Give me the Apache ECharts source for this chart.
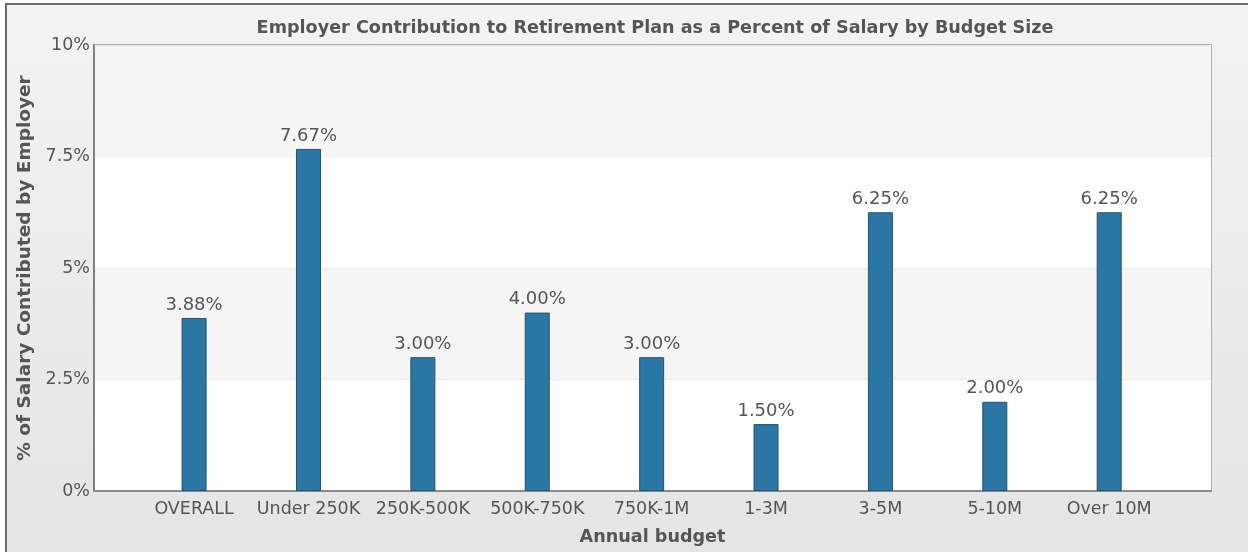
<!DOCTYPE html>
<html>
<head>
<meta charset="utf-8">
<script src="https://cdn.jsdelivr.net/npm/echarts@6/dist/echarts.min.js"></script>
<style>
  html, body { margin: 0; padding: 0; background: #ffffff; }
  #chart { width: 1248px; height: 552px; }
</style>
</head>
<body>
<div id="chart"></div>
<script>
// Budget size groups and the employer contribution (% of salary) for each
const categories = ['OVERALL', 'Under 250K', '250K-500K', '500K-750K', '750K-1M', '1-3M', '3-5M', '5-10M', 'Over 10M'];
const contribution = [3.88, 7.67, 3.00, 4.00, 3.00, 1.50, 6.25, 2.00, 6.25];
const yTicks = [0, 2.5, 5, 7.5, 10];

const textColor = '#555555';
const fontFamily = 'DejaVu Sans, Verdana, sans-serif';

const chart = echarts.init(document.getElementById('chart'), null, { renderer: 'canvas' });

const seriesData = contribution.map((v, i) => [i, v]);

chart.setOption({
  animation: false,
  backgroundColor: 'transparent',
  graphic: [{
    type: 'rect',
    z: -100,
    silent: true,
    shape: { x: 6, y: 4, width: 1300, height: 600 },
    style: {
      fill: new echarts.graphic.LinearGradient(0, 0, 0, 1, [
        { offset: 0, color: '#f3f3f3' },
        { offset: 1, color: '#e3e3e3' }
      ]),
      stroke: '#6a6a6a',
      lineWidth: 2
    }
  }],
  title: {
    text: 'Employer Contribution to Retirement Plan as a Percent of Salary by Budget Size',
    left: 650,
    textAlign: 'center',
    top: 14,
    textStyle: { color: textColor, fontSize: 17.6, fontWeight: 'bold', fontFamily: fontFamily }
  },
  grid: {
    left: 94, right: 37, top: 45, bottom: 61,
    show: true,
    backgroundColor: '#ffffff',
    borderColor: '#9a9a9a',
    borderWidth: 1.5
  },
  xAxis: {
    type: 'value',
    min: -0.875,
    max: 8.89,
    name: 'Annual budget',
    nameLocation: 'middle',
    nameGap: 37,
    nameTextStyle: { color: textColor, fontSize: 17.6, fontWeight: 'bold', fontFamily: fontFamily },
    axisLine: { show: true, onZero: false, lineStyle: { color: '#8a8a8a', width: 2 } },
    axisTick: { show: false },
    splitLine: { show: false },
    axisLabel: {
      customValues: categories.map((c, i) => i),
      formatter: v => categories[v],
      color: textColor,
      fontSize: 17.5,
      fontFamily: fontFamily,
      margin: 9
    }
  },
  yAxis: {
    type: 'value',
    min: 0,
    max: 10,
    interval: 2.5,
    name: '% of Salary Contributed by Employer',
    nameLocation: 'middle',
    nameGap: 49,
    nameRotate: 90,
    nameTextStyle: { color: textColor, fontSize: 18.5, fontWeight: 'bold', fontFamily: fontFamily },
    axisLine: { show: true, onZero: false, lineStyle: { color: '#808080', width: 2 } },
    axisTick: { show: false },
    axisLabel: {
      formatter: v => (yTicks.includes(v) ? v + '%' : ''),
      color: textColor,
      fontSize: 17.5,
      fontFamily: fontFamily,
      margin: 4
    },
    splitLine: { show: true, lineStyle: { color: '#ececec', width: 1 } },
    splitArea: { show: true, areaStyle: { color: ['#ffffff', '#f5f5f5'] } }
  },
  series: [{
    type: 'bar',
    data: seriesData,
    barWidth: 25,
    itemStyle: { color: '#2a76a5', borderColor: '#28506d', borderWidth: 1 },
    label: {
      show: true,
      position: 'top',
      distance: 4,
      formatter: p => p.value[1].toFixed(2) + '%',
      color: textColor,
      fontSize: 18,
      fontFamily: fontFamily
    }
  }]
});
</script>
</body>
</html>
